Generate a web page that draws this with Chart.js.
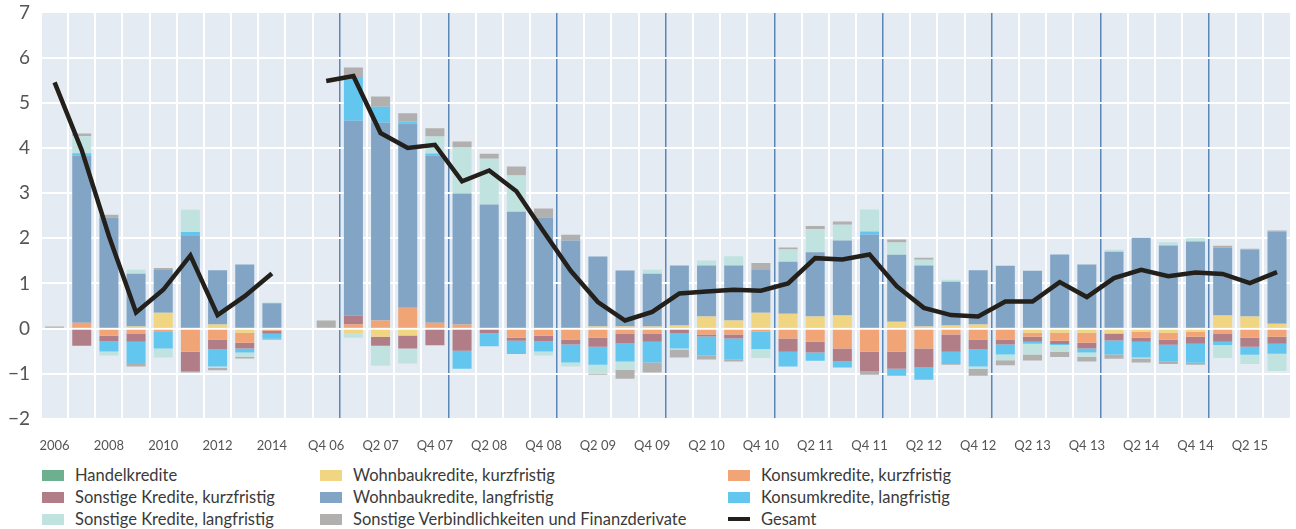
<!DOCTYPE html>
<html>
<head>
<meta charset="utf-8">
<script src="https://cdn.jsdelivr.net/npm/chart.js@4"></script>
<style>
  body { margin: 0; background: #fff; font-family: Lato, "Open Sans", sans-serif; overflow: hidden; }
  #wrap { position: absolute; left: 0; top: -10px; width: 1296px; height: 470px; }
  #legend { position: absolute; left: 0; top: 464px; width: 1296px; height: 65px; }
  .item { position: absolute; font-size: 16.5px; color: #3a3a3a; line-height: 22px; white-space: nowrap; }
  .sw { position: absolute; top: 6px; width: 22px; height: 11px; }
  .sw.line { top: 9px; height: 4px; }
  .item span.t { position: absolute; left: 33px; top: 0; }
</style>
</head>
<body>
<div id="wrap"><canvas id="myChart" width="1296" height="470"></canvas></div>
<div id="legend"></div>
<script>
const categories = ['2006','2007','2008','2009','2010','2011','2012','2013','2014','',
  'Q4 06','Q1 07','Q2 07','Q3 07','Q4 07','Q1 08','Q2 08','Q3 08','Q4 08',
  'Q1 09','Q2 09','Q3 09','Q4 09','Q1 10','Q2 10','Q3 10','Q4 10',
  'Q1 11','Q2 11','Q3 11','Q4 11','Q1 12','Q2 12','Q3 12','Q4 12',
  'Q1 13','Q2 13','Q3 13','Q4 13','Q1 14','Q2 14','Q3 14','Q4 14',
  'Q1 15','Q2 15','Q3 15'];

const handelkredite = [0,0,0,0,0,0,0,0,0,null,
  0,0,0,0,0,0,0,0,0, 0,0,0,0,0,0,0,0, 0,0,0,0,0,0,0,0, 0,0,0,0,0,0,0,0, 0,0,0];
const wohnbauKurz = [0,0.02,0.02,0.045,0.35,0.02,0.09,-0.09,0,null,
  0,-0.11,-0.18,-0.15,0.02,0,0,0,0.02,
  0.02,0.045,0.045,0.045,0.07,0.27,0.18,0.35,
  0.33,0.27,0.29,0.02,0.155,0.045,0.07,0.09,
  0,-0.09,-0.09,-0.09,-0.11,-0.07,-0.09,-0.07,
  0.29,0.27,0.11];
const konsumKurz = [0,0.11,-0.155,-0.11,-0.06,-0.51,-0.24,-0.22,-0.045,null,
  0,0.09,0.18,0.46,0.11,0.09,0.02,-0.2,-0.155,
  -0.24,-0.2,-0.11,-0.11,0,-0.13,-0.13,-0.07,
  -0.22,-0.29,-0.44,-0.51,-0.51,-0.44,-0.13,-0.24,
  -0.24,-0.09,-0.18,-0.22,0,-0.13,-0.155,-0.11,
  -0.11,-0.2,-0.18];
const sonstigeKurz = [0,-0.38,-0.13,-0.18,0,-0.44,-0.22,-0.13,-0.07,null,
  0,0.2,-0.2,-0.29,-0.37,-0.49,-0.1,-0.07,-0.13,
  -0.11,-0.2,-0.22,-0.18,-0.11,-0.045,-0.09,0,
  -0.29,-0.24,-0.29,-0.44,-0.38,-0.42,-0.38,-0.22,
  -0.11,-0.11,-0.07,-0.13,-0.155,-0.09,-0.11,-0.155,
  -0.18,-0.2,-0.155];
const wohnbauLang = [0,3.7,2.44,1.17,0.95,2.05,1.2,1.42,0.56,null,
  0,4.31,4.38,4.08,3.7,2.9,2.73,2.59,2.44,
  1.93,1.55,1.24,1.17,1.33,1.13,1.22,0.95,
  1.15,1.42,1.66,2.06,1.48,1.35,0.97,1.2,
  1.39,1.28,1.64,1.42,1.7,2.01,1.84,1.93,
  1.5,1.48,2.04];
const konsumLang = [0,0.05,-0.22,-0.47,-0.38,0.07,-0.38,-0.09,-0.11,null,
  0,0.97,0.35,0.045,0.045,-0.4,-0.29,-0.29,-0.22,
  -0.4,-0.4,-0.4,-0.46,-0.33,-0.42,-0.46,-0.38,
  -0.33,-0.18,-0.13,0.07,-0.155,-0.27,-0.27,-0.38,
  -0.22,-0.045,-0.02,-0.09,-0.31,-0.35,-0.38,-0.42,
  -0.07,-0.18,-0.22];
const sonstigeLang = [0,0.38,-0.09,0.09,-0.2,0.49,-0.03,-0.09,0.02,null,
  0,-0.09,-0.44,-0.33,0.38,1.02,1.01,0.8,-0.09,
  -0.09,-0.2,-0.18,0.09,-0.02,0.11,0.2,-0.2,
  0.27,0.51,0.35,0.49,0.27,0.13,0.045,-0.045,
  -0.13,-0.24,-0.155,-0.09,0.045,-0.02,0.07,0.07,
  -0.29,-0.2,-0.38];
const sonstigeVerb = [0.05,0.06,0.06,-0.08,0.045,-0.02,-0.05,-0.04,-0.02,null,
  0.18,0.21,0.23,0.18,0.18,0.13,0.11,0.2,0.2,
  0.13,-0.02,-0.2,-0.22,-0.18,-0.09,-0.045,0.155,
  0.045,0.07,0.07,-0.07,0.07,0.045,-0.02,-0.155,
  -0.11,-0.13,-0.11,-0.11,-0.09,-0.09,-0.045,-0.045,
  0.045,0.02,0.02];
const gesamt = [5.45,3.95,2.05,0.36,0.86,1.62,0.3,0.72,1.22,null,
  5.48,5.59,4.33,4.0,4.07,3.26,3.5,3.04,2.15,
  1.28,0.59,0.18,0.37,0.78,0.82,0.86,0.84,
  1.0,1.56,1.53,1.64,0.94,0.46,0.3,0.27,
  0.6,0.6,1.03,0.7,1.12,1.3,1.16,1.24,
  1.21,1.01,1.25];

const yTicks = [-2,-1,0,1,2,3,4,5,6,7];

// stacking order from zero outward = dataset order
const barSeries = [
  { label: 'Handelkredite', data: handelkredite, color: '#6db08f' },
  { label: 'Wohnbaukredite, kurzfristig', data: wohnbauKurz, color: '#f0d682' },
  { label: 'Konsumkredite, kurzfristig', data: konsumKurz, color: '#f1a475' },
  { label: 'Sonstige Kredite, kurzfristig', data: sonstigeKurz, color: '#b17e88' },
  { label: 'Wohnbaukredite, langfristig', data: wohnbauLang, color: '#82a5c5' },
  { label: 'Konsumkredite, langfristig', data: konsumLang, color: '#63c6ef' },
  { label: 'Sonstige Kredite, langfristig', data: sonstigeLang, color: '#c0e3e0' },
  { label: 'Sonstige Verbindlichkeiten und Finanzderivate', data: sonstigeVerb, color: '#b1b0af' }
];
const lineColor = '#231f1b';

const datasets = [{
  type: 'line',
  label: 'Gesamt',
  data: gesamt,
  borderColor: lineColor,
  backgroundColor: lineColor,
  borderWidth: 4.5,
  pointRadius: 0,
  tension: 0,
  spanGaps: false,
  stack: 'gesamt',
  order: 0
}];
barSeries.forEach(s => {
  datasets.push({
    type: 'bar',
    label: s.label,
    data: s.data,
    backgroundColor: s.color,
    borderWidth: 0,
    stack: 'bars',
    barPercentage: 0.7,
    categoryPercentage: 1.0,
    order: 1
  });
});

const bgPlugin = {
  id: 'bg',
  beforeDraw(chart) {
    const a = chart.chartArea;
    const ctx = chart.ctx;
    ctx.save();
    ctx.fillStyle = '#e4ebf3';
    ctx.fillRect(a.left, a.top, a.right - a.left, a.bottom - a.top);
    ctx.restore();
  }
};

const isYearLine = i => (categories[i] || '').startsWith('Q1');

const config = {
  type: 'bar',
  data: { labels: categories, datasets: datasets },
  options: {
    responsive: false,
    animation: false,
    layout: { padding: 0 },
    plugins: { legend: { display: false }, tooltip: { enabled: false } },
    scales: {
      x: {
        stacked: true,
        offset: true,
        grid: {
          offset: true,
          drawTicks: false,
          color: c => isYearLine(c.index) ? '#5b87b7' : '#ffffff',
          lineWidth: c => isYearLine(c.index) ? 1.5 : 2
        },
        border: { display: false },
        ticks: {
          autoSkip: false,
          maxRotation: 0,
          padding: 19,
          color: '#555555',
          font: { family: 'Lato', size: 13 },
          callback: (v, i) => (i % 2 === 0 ? categories[i] : '')
        },
        afterFit: s => { s.height = 41; }
      },
      y: {
        stacked: true,
        min: -2,
        max: 7,
        afterBuildTicks: s => { s.ticks = yTicks.map(v => ({ value: v })); },
        grid: { color: '#ffffff', lineWidth: 2, drawTicks: false },
        border: { display: false },
        ticks: {
          padding: 11,
          color: '#555555',
          font: { family: 'Lato', size: 19 },
          callback: v => (v < 0 ? '\u2212' + Math.abs(v) : String(v))
        },
        afterFit: s => { s.width = 41; }
      }
    }
  },
  plugins: [bgPlugin]
};

var ctx = document.getElementById('myChart').getContext('2d');
new Chart(ctx, config);

// legend, column-major in three columns
const legendItems = [
  { label: 'Handelkredite', color: '#6db08f' },
  { label: 'Sonstige Kredite, kurzfristig', color: '#b17e88' },
  { label: 'Sonstige Kredite, langfristig', color: '#c0e3e0' },
  { label: 'Wohnbaukredite, kurzfristig', color: '#f0d682' },
  { label: 'Wohnbaukredite, langfristig', color: '#82a5c5' },
  { label: 'Sonstige Verbindlichkeiten und Finanzderivate', color: '#b1b0af' },
  { label: 'Konsumkredite, kurzfristig', color: '#f1a475' },
  { label: 'Konsumkredite, langfristig', color: '#63c6ef' },
  { label: 'Gesamt', color: lineColor, line: true }
];
const colX = [42, 320, 728];
const legend = document.getElementById('legend');
legendItems.forEach((it, i) => {
  const d = document.createElement('div');
  d.className = 'item';
  d.style.left = colX[Math.floor(i / 3)] + 'px';
  d.style.top = (i % 3) * 22 + 'px';
  d.innerHTML = '<div class="sw' + (it.line ? ' line' : '') + '" style="background:' + it.color + '"></div><span class="t">' + it.label + '</span>';
  legend.appendChild(d);
});
</script>
</body>
</html>
